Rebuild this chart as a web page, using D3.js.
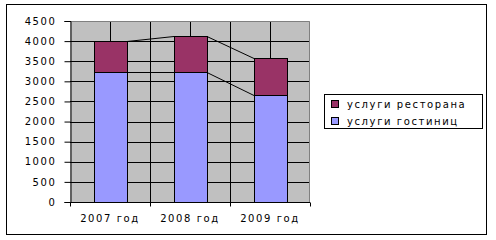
<!DOCTYPE html>
<html>
<head>
<meta charset="utf-8">
<script src="https://cdn.jsdelivr.net/npm/d3@7"></script>
<style>
body { margin: 0; background: #fff; }
text { font-family: "DejaVu Sans", sans-serif; font-size: 10px; letter-spacing: 1.6px; fill: #000; }
</style>
</head>
<body>
<script>
// chart data
var years = ["2007 год", "2008 год", "2009 год"];
var hotel = [3220, 3230, 2670];        // услуги гостиниц
var restaurant = [780, 890, 900];     // услуги ресторана
var seriesNames = ["услуги гостиниц", "услуги ресторана"];
var seriesColors = ["#9999ff", "#993366"];
var yTicks = d3.range(0, 4501, 500);

var svg = d3.select("body").append("svg")
    .attr("width", 496).attr("height", 240);

// outer frame
svg.append("rect").attr("x", 6.5).attr("y", 4.5).attr("width", 480).attr("height", 230)
    .attr("fill", "#fff").attr("stroke", "#000").attr("stroke-width", 1);

var margin = {left: 70, top: 21, right: 186, bottom: 38};
var width = 496 - margin.left - margin.right;
var height = 240 - margin.top - margin.bottom;

var g = svg.append("g").attr("transform", "translate(" + margin.left + "," + margin.top + ")");

var x = d3.scaleBand().domain(years).range([0, width]);
var y = d3.scaleLinear().domain([0, 4500]).range([height, 0]);

// plot background
g.append("rect").attr("width", width).attr("height", height).attr("fill", "#c0c0c0");

// grid
g.selectAll(".hgrid").data(yTicks.slice(1, -1)).enter().append("line")
    .attr("x1", 0).attr("x2", width)
    .attr("y1", function(d) { return Math.round(y(d)) + 0.5; })
    .attr("y2", function(d) { return Math.round(y(d)) + 0.5; })
    .attr("stroke", "#000");
var vgrid = [];
years.forEach(function(c, i) {
    if (i > 0) vgrid.push(x(c));
    vgrid.push(x(c) + x.bandwidth() / 2);
});
g.selectAll(".vgrid").data(vgrid).enter().append("line")
    .attr("x1", function(d) { return Math.round(d) + 0.5; })
    .attr("x2", function(d) { return Math.round(d) + 0.5; })
    .attr("y1", 0).attr("y2", height)
    .attr("stroke", "#000");

// plot border top/right
g.append("path").attr("d", "M0,0.5H" + (width - 0.5) + "V" + height)
    .attr("fill", "none").attr("stroke", "#808080");

// stacked bars
var stack = years.map(function(c, i) {
    return [{s: 0, y0: 0, y1: hotel[i], c: c}, {s: 1, y0: hotel[i], y1: hotel[i] + restaurant[i], c: c}];
});
var barW = 33;
var flat = [].concat.apply([], stack);
g.selectAll(".bar").data(flat).enter().append("rect")
    .attr("x", function(d) { return Math.round(x(d.c) + (x.bandwidth() - barW) / 2) + 0.5; })
    .attr("width", barW)
    .attr("y", function(d) { return Math.round(y(d.y1)) + 0.5; })
    .attr("height", function(d) { return Math.round(y(d.y0)) - Math.round(y(d.y1)); })
    .attr("fill", function(d) { return seriesColors[d.s]; })
    .attr("stroke", "#000").attr("stroke-width", 1);

// series lines
[0, 1].forEach(function(s) {
    for (var i = 0; i < years.length - 1; i++) {
        var a = stack[i][s], b = stack[i + 1][s];
        g.append("line")
            .attr("x1", x(a.c) + (x.bandwidth() + barW) / 2 + 0.5)
            .attr("y1", Math.round(y(a.y1)) + 0.5)
            .attr("x2", x(b.c) + (x.bandwidth() - barW) / 2 + 0.5)
            .attr("y2", Math.round(y(b.y1)) + 0.5)
            .attr("stroke", "#000").attr("stroke-width", 1);
    }
});

// axes
var yAxis = g.append("g").attr("transform", "translate(0.5,0)")
    .call(d3.axisLeft(y).tickValues(yTicks).tickSize(6).tickPadding(8).tickFormat(d3.format("d")));
yAxis.select(".domain").attr("stroke", "#000");
yAxis.selectAll("line").attr("stroke", "#000");
yAxis.selectAll("text").attr("font-size", null).attr("font-family", null);

var xAxis = g.append("g").attr("transform", "translate(0," + (height + 0.5) + ")");
xAxis.append("line").attr("x1", 0).attr("x2", width).attr("stroke", "#000");
xAxis.selectAll(".xt").data(years.map(function(c) { return x(c); }).concat([width])).enter().append("line")
    .attr("x1", function(d) { return Math.round(d) + 0.5; })
    .attr("x2", function(d) { return Math.round(d) + 0.5; })
    .attr("y1", 0).attr("y2", 4).attr("stroke", "#000");
xAxis.selectAll(".xl").data(years).enter().append("text")
    .attr("x", function(d) { return x(d) + x.bandwidth() / 2; })
    .attr("y", 19)
    .attr("text-anchor", "middle")
    .text(function(d) { return d; });

// legend
var lg = svg.append("g").attr("transform", "translate(324,94)");
lg.append("rect").attr("x", 0.5).attr("y", 0.5).attr("width", 158).attr("height", 34)
    .attr("fill", "#fff").attr("stroke", "#000");
var legendOrder = [1, 0];
legendOrder.forEach(function(s, i) {
    var yy = 10 + i * 17;
    lg.append("rect").attr("x", 7.5).attr("y", yy - 3.5).attr("width", 7).attr("height", 7)
        .attr("fill", seriesColors[s]).attr("stroke", "#000");
    lg.append("text").attr("x", 23).attr("y", yy + 4).text(seriesNames[s]);
});
</script>
</body>
</html>
